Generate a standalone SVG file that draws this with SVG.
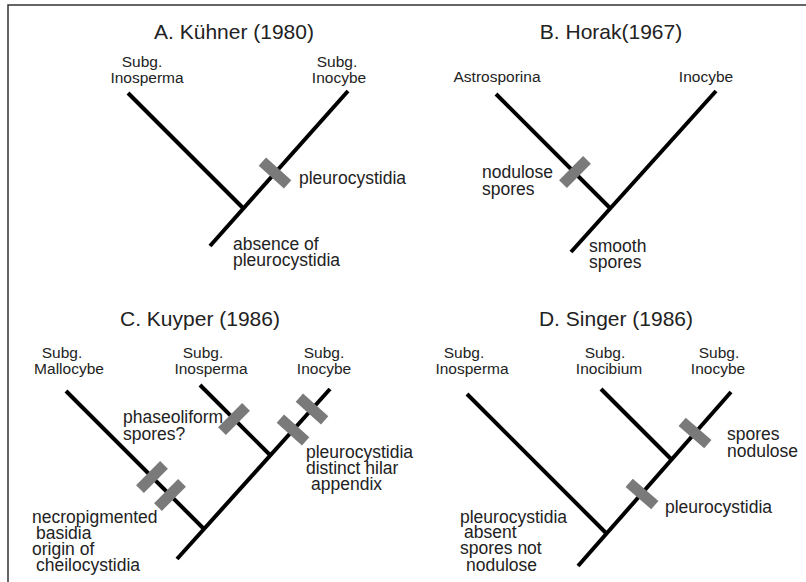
<svg xmlns="http://www.w3.org/2000/svg" xmlns:xlink="http://www.w3.org/1999/xlink" width="806" height="582" viewBox="0 0 806 582">
<style>
text{font-family:"Liberation Sans",Arial,sans-serif;fill:#222}
.t{font-size:21px;text-anchor:middle}
.l{font-size:15.5px;text-anchor:middle}
.a{font-size:17.5px}
.br{stroke:#000;stroke-width:4;fill:none}
.bar{fill:#7a7a7a}
</style>
<defs><rect id="bar" class="bar" x="-17" y="-5.5" width="34" height="11"/></defs>
<rect width="806" height="582" fill="#fff"/>
<path d="M8,582 V5 H806" fill="none" stroke="#333" stroke-width="1.5"/>
<g id="connectors">
<line class="br" x1="128" y1="93" x2="243" y2="208"/>
<line class="br" x1="348" y1="91" x2="210" y2="246"/>
<line class="br" x1="496" y1="94" x2="610" y2="208"/>
<line class="br" x1="716" y1="91" x2="571" y2="252"/>
<line class="br" x1="66" y1="391" x2="204" y2="529"/>
<line class="br" x1="200" y1="385" x2="270" y2="455"/>
<line class="br" x1="330" y1="389" x2="177" y2="559"/>
<line class="br" x1="467" y1="394" x2="606" y2="533"/>
<line class="br" x1="601" y1="389" x2="672" y2="460"/>
<line class="br" x1="731" y1="392" x2="578" y2="566"/>
</g>
<g id="bars">
<use xlink:href="#bar" transform="translate(275,173) rotate(42)"/>
<use xlink:href="#bar" transform="translate(575,172) rotate(-45)"/>
<use xlink:href="#bar" transform="translate(152,477) rotate(-45)"/>
<use xlink:href="#bar" transform="translate(170,495) rotate(-45)"/>
<use xlink:href="#bar" transform="translate(234,419) rotate(-45)"/>
<use xlink:href="#bar" transform="translate(293,430) rotate(42)"/>
<use xlink:href="#bar" transform="translate(312,409) rotate(42)"/>
<use xlink:href="#bar" transform="translate(695,433) rotate(41)"/>
<use xlink:href="#bar" transform="translate(642,494) rotate(41)"/>
</g>
<g id="panelA">
<text class="t" x="234" y="39">A. Kühner (1980)</text>
<g id="A-inosperma"><text class="l" x="142" y="67">Subg.</text><text class="l" x="147" y="83">Inosperma</text></g>
<g id="A-inocybe"><text class="l" x="337" y="67">Subg.</text><text class="l" x="339" y="83">Inocybe</text></g>
<text class="a" x="299" y="184">pleurocystidia</text>
<text class="a" x="233" y="250">absence of</text>
<text class="a" x="233" y="266">pleurocystidia</text>
</g>
<g id="panelB">
<text class="t" x="611" y="39">B. Horak(1967)</text>
<g id="B-astrosporina"><text class="l" x="497" y="82">Astrosporina</text></g>
<g id="B-inocybe"><text class="l" x="706" y="82">Inocybe</text></g>
<text class="a" x="482" y="178">nodulose</text>
<text class="a" x="482" y="195">spores</text>
<text class="a" x="589" y="252">smooth</text>
<text class="a" x="589" y="268">spores</text>
</g>
<g id="panelC">
<text class="t" x="200" y="326">C. Kuyper (1986)</text>
<g id="C-mallocybe"><text class="l" x="62" y="358">Subg.</text><text class="l" x="69" y="374">Mallocybe</text></g>
<g id="C-inosperma"><text class="l" x="203" y="358">Subg.</text><text class="l" x="211" y="374">Inosperma</text></g>
<g id="C-inocybe"><text class="l" x="324" y="358">Subg.</text><text class="l" x="324" y="374">Inocybe</text></g>
<text class="a" x="123" y="423">phaseoliform</text>
<text class="a" x="123" y="440">spores?</text>
<text class="a" x="306" y="458">pleurocystidia</text>
<text class="a" x="306" y="474">distinct hilar</text>
<text class="a" x="311" y="490">appendix</text>
<text class="a" x="32" y="523">necropigmented</text>
<text class="a" x="36" y="539">basidia</text>
<text class="a" x="32" y="555">origin of</text>
<text class="a" x="36" y="571">cheilocystidia</text>
</g>
<g id="panelD">
<text class="t" x="616" y="326">D. Singer (1986)</text>
<g id="D-inosperma"><text class="l" x="464" y="358">Subg.</text><text class="l" x="472" y="374">Inosperma</text></g>
<g id="D-inocibium"><text class="l" x="605" y="358">Subg.</text><text class="l" x="609" y="374">Inocibium</text></g>
<g id="D-inocybe"><text class="l" x="719" y="358">Subg.</text><text class="l" x="718" y="374">Inocybe</text></g>
<text class="a" x="727" y="440">spores</text>
<text class="a" x="727" y="457">nodulose</text>
<text class="a" x="665" y="513">pleurocystidia</text>
<text class="a" x="460" y="523">pleurocystidia</text>
<text class="a" x="464" y="538">absent</text>
<text class="a" x="460" y="554">spores not</text>
<text class="a" x="466" y="571">nodulose</text>
</g>
</svg>
